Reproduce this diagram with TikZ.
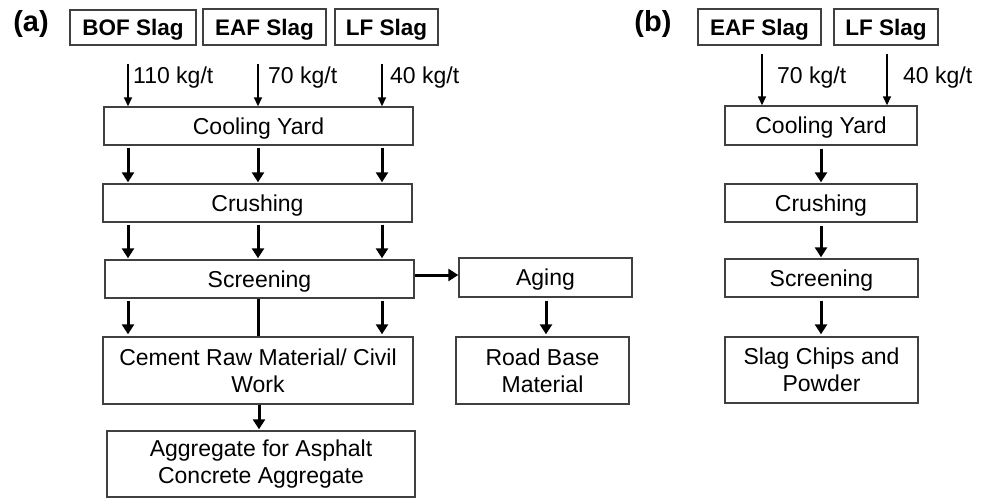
\documentclass[tikz,border=0pt]{standalone}
\usepackage{fontspec}
\setmainfont{Liberation Sans}
\usetikzlibrary{arrows.meta}
\begin{document}
\begin{tikzpicture}[x=1pt,y=-1pt,
  box/.style={draw=black!75, line width=1.4pt, fill=white, inner sep=0pt,
    align=center, font=\fontsize{23}{27}\selectfont},
  oneline/.style={text height=16.5pt, text depth=0pt},
  srcbox/.style={box, oneline, font=\fontsize{22.5}{27}\selectfont\bfseries},
  thinarr/.style={line width=1.5pt, -{Triangle[length=9pt,width=8pt]}},
  thickarr/.style={line width=3pt, -{Triangle[length=10pt,width=12pt]}},
  thickline/.style={line width=3pt},
  rate/.style={anchor=base west, inner sep=0pt, font=\fontsize{23}{27}\selectfont},
  panel/.style={inner sep=0pt, font=\fontsize{29}{32}\selectfont\bfseries}]
\useasboundingbox (0,0) rectangle (989,498);

% ---------- (a) ----------
\node[panel] (la) at (31,24) {(a)};
\node[srcbox, minimum width=126pt, minimum height=35pt] (bof)  at (133,27.5) {BOF Slag};
\node[srcbox, minimum width=123pt, minimum height=36pt] (eafa) at (264.5,27) {EAF Slag};
\node[srcbox, minimum width=103pt, minimum height=36pt] (lfa)  at (386.5,27) {LF Slag};

\node[box, oneline, minimum width=309pt, minimum height=38pt] (coola)   at (258.5,126) {Cooling Yard};
\node[box, oneline, minimum width=309pt, minimum height=38pt] (crusha)  at (257.5,203) {Crushing};
\node[box, oneline, minimum width=309pt, minimum height=38pt] (screena) at (259.5,279) {Screening};
\node[box, oneline, minimum width=173pt, minimum height=39pt] (aging)   at (545.5,277.5) {Aging};
\node[box, minimum width=173pt, minimum height=67pt] (road)    at (542.5,370.5) {Road Base\\Material};
\node[box, minimum width=310pt, minimum height=67pt] (cement)  at (258,370.5) {Cement Raw Material/ Civil\\Work};
\node[box, minimum width=308pt, minimum height=66pt] (aggr)    at (261,464) {Aggregate for Asphalt\\Concrete Aggregate};

\coordinate (ca) at (128,0);
\coordinate (cb) at (258,0);
\coordinate (cc) at (382,0);

% feed rates into the cooling yard
\draw[thinarr] ([yshift=-18pt]bof.south -| ca) -- (coola.north -| ca);
\draw[thinarr] ([yshift=-18pt]eafa.south -| cb) -- (coola.north -| cb);
\draw[thinarr] ([yshift=-18pt]lfa.south -| cc) -- (coola.north -| cc);
\node[rate] (ra1) at (133,83) {110 kg/t};
\node[rate] (ra2) at (268,83) {70 kg/t};
\node[rate] (ra3) at (390,83) {40 kg/t};

% process chain
\foreach \c in {ca,cb,cc}{
  \draw[thickarr] ([yshift=-2pt]coola.south -| \c) -- ([yshift=1pt]crusha.north -| \c);
  \draw[thickarr] ([yshift=-2pt]crusha.south -| \c) -- ([yshift=1pt]screena.north -| \c);
}
\draw[thickarr] ([yshift=-2pt]screena.south -| ca) -- ([yshift=2pt]cement.north -| ca);
\draw[thickline] (screena.south -| cb) -- (cement.north -| cb);
\draw[thickarr] ([yshift=-2pt]screena.south -| cc) -- ([yshift=2pt]cement.north -| cc);
\draw[thickarr] (cement.south -| 259,0) -- ([yshift=1pt]aggr.north -| 259,0);

\draw[thickarr] (screena.east |- 0,275) -- (aging.west |- 0,275);
\draw[thickarr] ([yshift=-3pt]aging.south -| 546,0) -- ([yshift=2pt]road.north -| 546,0);

% ---------- (b) ----------
\node[panel] (lb) at (653,24) {(b)};
\node[srcbox, minimum width=123pt, minimum height=36pt] (eafb) at (759.5,27) {EAF Slag};
\node[srcbox, minimum width=104pt, minimum height=36pt] (lfb)  at (886,27) {LF Slag};

\node[box, oneline, minimum width=192pt, minimum height=39pt] (coolb)   at (821,125.5) {Cooling Yard};
\node[box, oneline, minimum width=192pt, minimum height=38pt] (crushb)  at (821,203) {Crushing};
\node[box, oneline, minimum width=193pt, minimum height=38pt] (screenb) at (821.5,278) {Screening};
\node[box, minimum width=193pt, minimum height=66pt] (chips)   at (821.5,370) {Slag Chips and\\Powder};

\coordinate (cd) at (762,0);
\coordinate (ce) at (887,0);
\coordinate (cf) at (821,0);

\draw[thinarr] ([yshift=-8pt]eafb.south -| cd) -- (coolb.north -| cd);
\draw[thinarr] ([yshift=-8pt]lfb.south -| ce) -- (coolb.north -| ce);
\node[rate] (rb1) at (777,83) {70 kg/t};
\node[rate] (rb2) at (903,83) {40 kg/t};

\draw[thickarr] ([yshift=-3pt]coolb.south -| cf) -- ([yshift=1pt]crushb.north -| cf);
\draw[thickarr] ([yshift=-3pt]crushb.south -| cf) -- ([yshift=1pt]screenb.north -| cf);
\draw[thickarr] ([yshift=-3pt]screenb.south -| cf) -- ([yshift=2pt]chips.north -| cf);
\end{tikzpicture}
\end{document}
